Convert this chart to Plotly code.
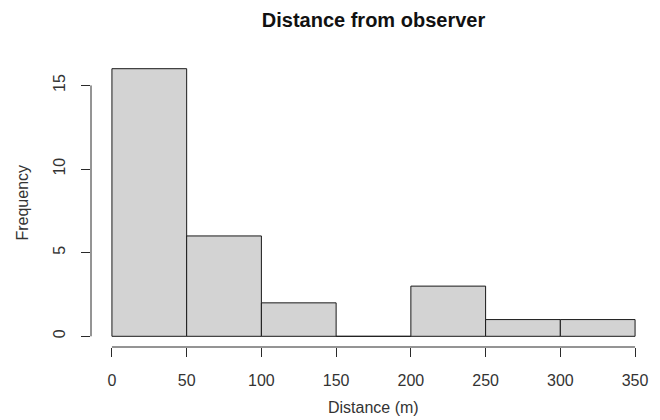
import plotly.graph_objects as go

bin_edges = [0, 50, 100, 150, 200, 250, 300, 350]
counts = [16, 6, 2, 0, 3, 1, 1]
x_ticks = [0, 50, 100, 150, 200, 250, 300, 350]
y_ticks = [0, 5, 10, 15]
title = "Distance from observer"
x_title = "Distance (m)"
y_title = "Frequency"

centers = [(a + b) / 2 for a, b in zip(bin_edges[:-1], bin_edges[1:])]
widths = [b - a for a, b in zip(bin_edges[:-1], bin_edges[1:])]

fig = go.Figure(go.Bar(
    x=centers, y=counts, width=widths,
    marker=dict(color="#d3d3d3", line=dict(color="#1a1a1a", width=1)),
    hoverinfo="x+y",
))

font = "Liberation Sans, Arial, sans-serif"
span = bin_edges[-1] - bin_edges[0]
xr = [bin_edges[0] - 0.04 * span, bin_edges[-1] + 0.04 * span]
ymax = max(counts)
yr = [-0.04 * ymax, ymax * 1.04]

# page has an 8px body margin; figure is sized to fit inside the 660x420 window
fig.update_layout(
    width=652, height=412,
    margin=dict(l=83, r=4, t=50, b=73),
    paper_bgcolor="white", plot_bgcolor="white",
    showlegend=False,
    font=dict(family=font, size=16, color="#333333"),
    title=dict(text="<b>" + title + "</b>", x=0.5, xref="paper", xanchor="center",
               y=1 - 12 / 412, yanchor="middle", font=dict(size=20, color="#111111")),
    xaxis=dict(range=xr, tickvals=x_ticks, ticks="outside", ticklen=9, tickwidth=1,
               tickcolor="#2a2a2a", showgrid=False, zeroline=False, showline=False,
               ticklabelstandoff=10, tickfont=dict(size=16)),
    yaxis=dict(range=yr, tickvals=y_ticks, ticks="outside", ticklen=9, tickwidth=1,
               tickcolor="#2a2a2a", showgrid=False, zeroline=False, showline=False,
               tickangle=-90, ticklabelstandoff=10, tickfont=dict(size=16)),
    annotations=[
        dict(text=x_title, xref="paper", yref="paper", x=0.5, y=-0.211,
             xanchor="center", yanchor="middle", showarrow=False, font=dict(size=16)),
        dict(text=y_title, xref="paper", yref="paper", x=-0.122, y=0.5, textangle=-90,
             xanchor="center", yanchor="middle", showarrow=False, font=dict(size=16)),
    ],
    shapes=[
        dict(type="line", xref="x", yref="paper", x0=x_ticks[0], x1=x_ticks[-1], y0=0, y1=0,
             line=dict(color="#2a2a2a", width=1)),
        dict(type="line", xref="paper", yref="y", x0=0, x1=0, y0=y_ticks[0], y1=y_ticks[-1],
             line=dict(color="#2a2a2a", width=1)),
    ],
)

fig.write_html("out.html")
